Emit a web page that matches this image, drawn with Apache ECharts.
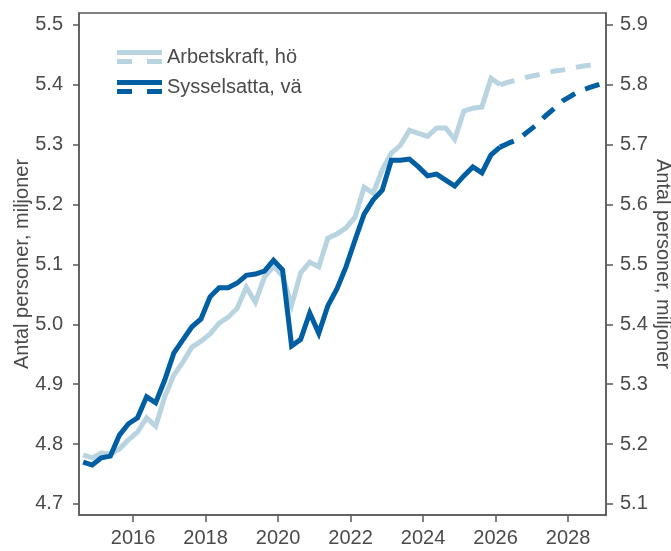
<!DOCTYPE html>
<html>
<head>
<meta charset="utf-8">
<script src="https://cdn.jsdelivr.net/npm/echarts@6/dist/echarts.min.js"></script>
<style>
html,body{margin:0;padding:0;background:#fff;}
#chart{width:671px;height:551px;}
</style>
</head>
<body>
<div id="chart"></div>
<script>
// Quarters (2014Q3 .. 2028Q4)
var quarters = [
 '2014Q3','2014Q4',
 '2015Q1','2015Q2','2015Q3','2015Q4',
 '2016Q1','2016Q2','2016Q3','2016Q4',
 '2017Q1','2017Q2','2017Q3','2017Q4',
 '2018Q1','2018Q2','2018Q3','2018Q4',
 '2019Q1','2019Q2','2019Q3','2019Q4',
 '2020Q1','2020Q2','2020Q3','2020Q4',
 '2021Q1','2021Q2','2021Q3','2021Q4',
 '2022Q1','2022Q2','2022Q3','2022Q4',
 '2023Q1','2023Q2','2023Q3','2023Q4',
 '2024Q1','2024Q2','2024Q3','2024Q4',
 '2025Q1','2025Q2','2025Q3','2025Q4',
 '2026Q1','2026Q2','2026Q3','2026Q4',
 '2027Q1','2027Q2','2027Q3','2027Q4',
 '2028Q1','2028Q2','2028Q3','2028Q4'
];
// Last outcome quarter; forecast (dashed) after that
var lastOutcome = '2026Q1';

// Arbetskraft (right axis), millions
var arbetskraft = [
 5.182,5.177,
 5.185,5.183,5.192,5.207,
 5.220,5.244,5.230,5.279,
 5.315,5.337,5.362,5.372,
 5.384,5.402,5.412,5.427,
 5.462,5.437,5.479,5.497,
 5.481,5.432,5.486,5.504,
 5.496,5.544,5.551,5.561,
 5.579,5.629,5.619,5.658,
 5.686,5.699,5.724,5.719,
 5.714,5.728,5.728,5.709,
 5.756,5.761,5.763,5.811,
 5.800,5.805,5.808,5.813,
 5.816,5.820,5.823,5.825,
 5.828,5.831,5.833,5.836
];
// Sysselsatta (left axis), millions
var sysselsatta = [
 4.770,4.765,
 4.777,4.780,4.815,4.834,
 4.844,4.879,4.869,4.907,
 4.952,4.974,4.996,5.009,
 5.046,5.061,5.061,5.069,
 5.082,5.084,5.089,5.107,
 5.091,4.964,4.975,5.019,
 4.985,5.031,5.059,5.096,
 5.141,5.184,5.208,5.224,
 5.274,5.274,5.276,5.263,
 5.248,5.251,5.241,5.231,
 5.248,5.263,5.253,5.283,
 5.296,5.303,5.309,5.321,
 5.333,5.348,5.361,5.374,
 5.383,5.391,5.396,5.401
];
var xTicks = [2016,2018,2020,2022,2024,2026,2028];
var leftTicks = [4.7,4.8,4.9,5.0,5.1,5.2,5.3,5.4,5.5];
var rightTicks = [5.1,5.2,5.3,5.4,5.5,5.6,5.7,5.8,5.9];

function qpos(q){ var y=+q.slice(0,4), n=+q.slice(5); return y + (n-0.5)/4; }
var cut = quarters.indexOf(lastOutcome);
function pairs(vals, from, to){
  var out=[]; for(var i=from;i<=to;i++){ out.push([qpos(quarters[i]), vals[i]]); } return out;
}
var N = quarters.length-1;

var LIGHT='#b9d4e1', DARK='#005ea2', TXT='#4a4a4a', AX='#5a5a5a';
var FONT='Liberation Sans, Arial, sans-serif';

var legendIcon = 'path://M0,0H45V5H0Z M0,9H15V14H0Z M30,9H45V14H30Z';

var chart = echarts.init(document.getElementById('chart'), null, {renderer:'canvas'});
chart.setOption({
  animation:false,
  backgroundColor:'#fff',
  textStyle:{fontFamily:FONT},
  grid:{left:79,right:65,top:13,bottom:36,show:true,borderColor:AX,borderWidth:1.5,
        backgroundColor:'transparent',containLabel:false,outerBoundsMode:'none'},
  legend:{
    orient:'vertical', left:117, top:47, padding:0,
    itemWidth:45, itemHeight:14, itemGap:10,
    textStyle:{fontSize:20,color:TXT,fontFamily:FONT,lineHeight:20},
    data:[
      {name:'Arbetskraft, hö', icon:legendIcon, itemStyle:{color:LIGHT}},
      {name:'Sysselsatta, vä', icon:legendIcon, itemStyle:{color:DARK}}
    ]
  },
  xAxis:{
    type:'value', min:2014.51, max:2029.048,
    splitLine:{show:false},
    axisLine:{show:true,lineStyle:{color:AX,width:1.5}},
    axisTick:{show:true,length:7,lineStyle:{color:AX,width:1.5},customValues:xTicks},
    axisLabel:{color:TXT,fontSize:20,fontFamily:FONT,margin:13,customValues:xTicks,formatter:function(v){return String(Math.round(v));}}
  },
  yAxis:[
    {
      type:'value', position:'left', min:4.6816, max:5.520,
      name:'Antal personer, miljoner', nameLocation:'middle', nameGap:47, nameMoveOverlap:false,
      nameTextStyle:{color:TXT,fontSize:20,fontFamily:FONT},
      splitLine:{show:false},
      axisLine:{show:true,lineStyle:{color:AX,width:1.5}},
      axisTick:{show:true,length:6,lineStyle:{color:AX,width:1.5},customValues:leftTicks},
      axisLabel:{color:TXT,fontSize:20,fontFamily:FONT,margin:16,customValues:leftTicks,formatter:function(v){return v.toFixed(1);}}
    },
    {
      type:'value', position:'right', min:5.0816, max:5.920,
      name:'Antal personer, miljoner', nameLocation:'middle', nameGap:47, nameRotate:-90, nameMoveOverlap:false,
      nameTextStyle:{color:TXT,fontSize:20,fontFamily:FONT},
      splitLine:{show:false},
      axisLine:{show:true,lineStyle:{color:AX,width:1.5}},
      axisTick:{show:true,length:7,lineStyle:{color:AX,width:1.5},customValues:rightTicks},
      axisLabel:{color:TXT,fontSize:20,fontFamily:FONT,margin:14,customValues:rightTicks,formatter:function(v){return v.toFixed(1);}}
    }
  ],
  series:[
    {name:'Arbetskraft, hö', type:'line', yAxisIndex:1, showSymbol:false, symbol:'none',
     lineStyle:{color:LIGHT,width:5,join:'miter'}, itemStyle:{color:LIGHT},
     data:pairs(arbetskraft,0,cut), z:2},
    {name:'Arbetskraft, hö', type:'line', yAxisIndex:1, showSymbol:false, symbol:'none',
     lineStyle:{color:LIGHT,width:5,type:[15,11]}, itemStyle:{color:LIGHT},
     data:pairs(arbetskraft,cut,N), z:2},
    {name:'Sysselsatta, vä', type:'line', yAxisIndex:0, showSymbol:false, symbol:'none',
     lineStyle:{color:DARK,width:5,join:'miter'}, itemStyle:{color:DARK},
     data:pairs(sysselsatta,0,cut), z:3},
    {name:'Sysselsatta, vä', type:'line', yAxisIndex:0, showSymbol:false, symbol:'none',
     lineStyle:{color:DARK,width:5,type:[15,11]}, itemStyle:{color:DARK},
     data:pairs(sysselsatta,cut,N), z:3}
  ]
});
</script>
</body>
</html>
